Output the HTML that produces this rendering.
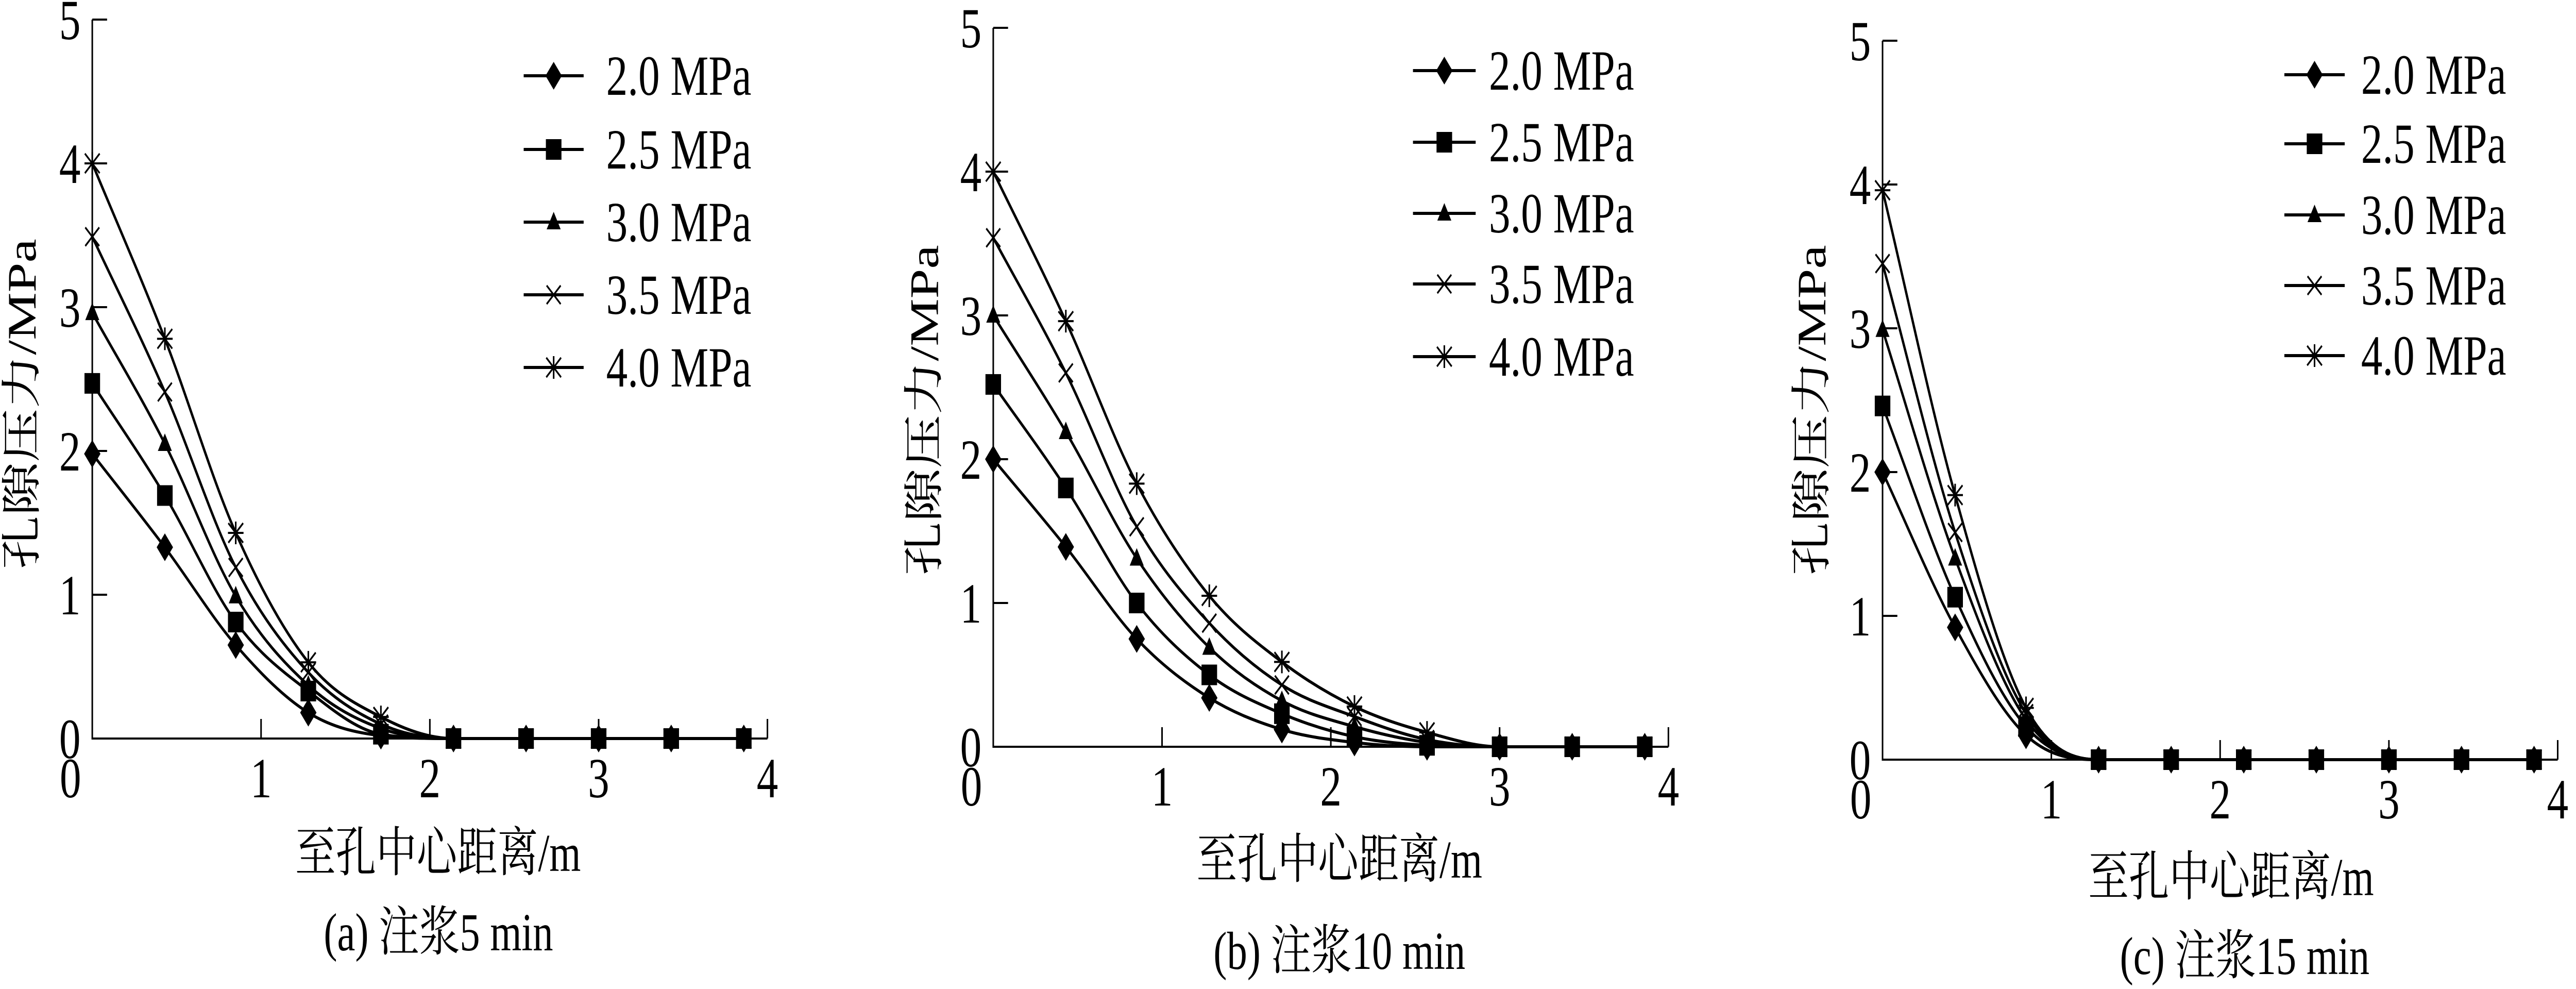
<!DOCTYPE html>
<html><head><meta charset="utf-8">
<style>
html,body{margin:0;padding:0;background:#fff;width:100%;height:100%;overflow:hidden;}
svg{display:block;width:100vw;height:100vh;}
text{font-family:"Liberation Serif","Noto Serif CJK SC","Noto Sans CJK SC",serif;fill:#000;}
</style></head>
<body>
<svg id="fig" viewBox="0 0 6616 1919" preserveAspectRatio="none" xmlns="http://www.w3.org/2000/svg">
<rect width="6616" height="1919" fill="#fff"/>
</svg>
<script>
// ---- data ----
const seriesNames = ["2.0 MPa","2.5 MPa","3.0 MPa","3.5 MPa","4.0 MPa"];
const xDist = [0,0.43,0.85,1.28,1.71,2.14,2.57,3.0,3.43,3.86];
const xTicks = [0,1,2,3,4];
const yTicks = [0,1,2,3,4,5];
const panelCaptions = ["(a)  注浆5 min","(b)  注浆10 min","(c)  注浆15 min"];
// panel a (5 min)
const a20 = [1.98,1.33,0.65,0.18,0.02,0,0,0,0,0];
const a25 = [2.47,1.69,0.81,0.33,0.03,0,0,0,0,0];
const a30 = [2.96,2.05,0.99,0.37,0.07,0,0,0,0,0];
const a35 = [3.49,2.41,1.19,0.46,0.10,0,0,0,0,0];
const a40 = [4.00,2.78,1.43,0.53,0.15,0,0,0,0,0];
// panel b (10 min)
const b20 = [2.00,1.39,0.75,0.34,0.12,0.03,0,0,0,0];
const b25 = [2.52,1.80,1.00,0.50,0.23,0.07,0.01,0,0,0];
const b30 = [3.00,2.19,1.31,0.69,0.32,0.14,0.03,0,0,0];
const b35 = [3.54,2.60,1.53,0.86,0.43,0.21,0.05,0,0,0];
const b40 = [4.00,2.96,1.83,1.05,0.59,0.28,0.10,0,0,0];
// panel c (15 min)
const c20 = [2.00,0.92,0.17,0,0,0,0,0,0,0];
const c25 = [2.46,1.13,0.23,0,0,0,0,0,0,0];
const c30 = [2.99,1.40,0.28,0,0,0,0,0,0,0];
const c35 = [3.45,1.58,0.32,0,0,0,0,0,0,0];
const c40 = [3.96,1.84,0.36,0,0,0,0,0,0,0];

const panels = [
  {id:"a", x0:237, y0:1433, series:[a20,a25,a30,a35,a40], leg:{l1:1345,l2:1499,tx:1557,rows:[147,290,431,572,713]}, yt:[56,784], xt:[1125,1690], cap:[1126,1844]},
  {id:"b", x0:2551, y0:1449, series:[b20,b25,b30,b35,b40], leg:{l1:3629,l2:3790,tx:3824,rows:[137,276,414,551,692]}, yt:[2374,796], xt:[3440,1703], cap:[3440,1880]},
  {id:"c", x0:4835, y0:1474, series:[c20,c25,c30,c35,c40], leg:{l1:5867,l2:6022,tx:6064,rows:[145,279,417,554,690]}, yt:[4653,796], xt:[5730,1737], cap:[5765,1890]}
];
const markerTypes = ["diamond","square","triangle","cross","star"];
const PXX = 433.5, PXY = 279;
const NS = "http://www.w3.org/2000/svg";
const svg = document.getElementById("fig");
function mk(tag, attrs, parent){
  const e = document.createElementNS(NS, tag);
  for (const k in attrs) e.setAttribute(k, attrs[k]);
  (parent||svg).appendChild(e);
  return e;
}
function marker(type, cx, cy, g){
  let e;
  if (type==="diamond"){
    e = mk("polygon",{points:`${cx},${cy-27} ${cx+21},${cy} ${cx},${cy+27} ${cx-21},${cy}`,fill:"#000"},g);
  } else if (type==="square"){
    e = mk("rect",{x:cx-20,y:cy-20,width:40,height:40,fill:"#000"},g);
  } else if (type==="triangle"){
    e = mk("polygon",{points:`${cx},${cy-20} ${cx+18},${cy+14} ${cx-18},${cy+14}`,fill:"#000"},g);
  } else if (type==="cross"){
    e = mk("path",{d:`M${cx-18},${cy-18}L${cx+18},${cy+18}M${cx-18},${cy+18}L${cx+18},${cy-18}`,stroke:"#000","stroke-width":4,fill:"none"},g);
  } else {
    e = mk("path",{d:`M${cx-19},${cy-19}L${cx+19},${cy+19}M${cx-19},${cy+19}L${cx+19},${cy-19}M${cx},${cy-22}L${cx},${cy+22}M${cx-20},${cy}L${cx+20},${cy}`,stroke:"#000","stroke-width":4,fill:"none"},g);
  }
  return e;
}
function monotonePath(px, py){
  const n = px.length, d = [], m = new Array(n);
  for (let i=0;i<n-1;i++) d.push((py[i+1]-py[i])/(px[i+1]-px[i]));
  m[0]=d[0]; m[n-1]=d[n-2];
  for (let i=1;i<n-1;i++){ m[i] = (d[i-1]*d[i]<=0)?0:(d[i-1]+d[i])/2; }
  for (let i=0;i<n-1;i++){
    if (d[i]===0){m[i]=0;m[i+1]=0;continue;}
    const a=m[i]/d[i], b=m[i+1]/d[i], s=a*a+b*b;
    if (s>9){const t=3/Math.sqrt(s); m[i]=t*a*d[i]; m[i+1]=t*b*d[i];}
  }
  let p = `M${px[0]},${py[0]}`;
  for (let i=0;i<n-1;i++){
    const h=(px[i+1]-px[i])/3;
    p += `C${px[i]+h},${py[i]+m[i]*h} ${px[i+1]-h},${py[i+1]-m[i+1]*h} ${px[i+1]},${py[i+1]}`;
  }
  return p;
}
panels.forEach((P, pi)=>{
  const sx = v => P.x0 + v*PXX;
  const sy = v => P.y0 - v*PXY;
  const g = mk("g",{});
  
  
  const ax = mk("path",{d:`M${sx(0)},${sy(5)}L${sx(0)},${sy(0)}L${sx(4)},${sy(0)}`,stroke:"#000","stroke-width":4,fill:"none"},g);
  
  
  yTicks.forEach(t=>{
    if (t>0){ mk("line",{x1:sx(0),y1:sy(t),x2:sx(0)+38,y2:sy(t),stroke:"#000","stroke-width":4},g); }
    const lb = mk("text",{x:sx(0)-30,y:sy(t)+38,"font-size":110,"text-anchor":"end"},g);
    lb.textContent = t;
    
    
  });
  xTicks.forEach(t=>{
    if (t>0){ mk("line",{x1:sx(t),y1:sy(0),x2:sx(t),y2:sy(0)-38,stroke:"#000","stroke-width":4},g); }
    const lb = mk("text",{x:(t===0?sx(0)-56:sx(t)),y:sy(0)+114,"font-size":110,"text-anchor":"middle"},g);
    lb.textContent = t;
    
    
  });
  P.series.forEach((vals, si)=>{
    const px = xDist.map(sx), py = vals.map(sy);
    const path = mk("path",{d:monotonePath(px,py),stroke:"#000","stroke-width":6,fill:"none"},g);
    
    
    vals.forEach((v,i)=>{
      const m = marker(markerTypes[si], sx(xDist[i]), sy(v), g);
      
      
    });
    const ry = P.leg.rows[si];
    const ll = mk("line",{x1:P.leg.l1,y1:ry,x2:P.leg.l2,y2:ry,stroke:"#000","stroke-width":6},g);
    
    
    marker(markerTypes[si], (P.leg.l1+P.leg.l2)/2, ry, g);
    const lt = mk("text",{x:P.leg.tx,y:ry+37,"font-size":110},g);
    lt.textContent = seriesNames[si];
    
    
  });
  const yt = mk("text",{x:0,y:0,"font-size":104,"text-anchor":"middle","dominant-baseline":"central",transform:`translate(${P.yt[0]},${P.yt[1]}) rotate(-90)`},g);
  yt.textContent = "孔隙压力/MPa";
  
  
  const xt = mk("text",{x:P.xt[0],y:P.xt[1],"font-size":104,"text-anchor":"middle"},g);
  xt.textContent = "至孔中心距离/m";
  
  
  const cp = mk("text",{x:P.cap[0],y:P.cap[1],"font-size":104,"text-anchor":"middle","xml:space":"preserve"},g);
  cp.textContent = panelCaptions[pi];
  
  
});
</script>
</body></html>
